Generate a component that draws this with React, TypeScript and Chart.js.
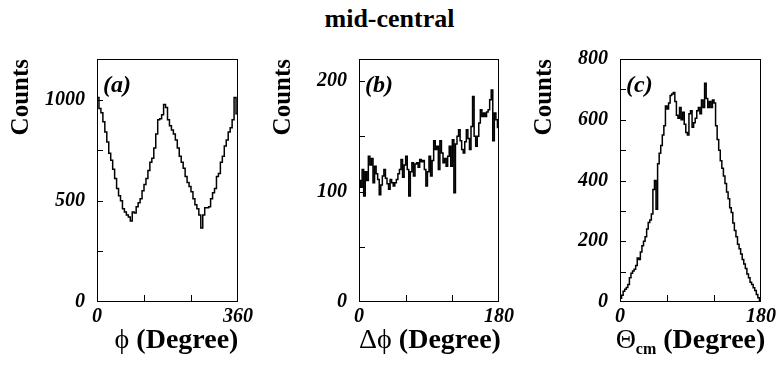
import React, { useEffect, useRef } from 'react';
import { Chart, registerables } from 'chart.js';

Chart.register(...registerables);

const SERIF = '"Liberation Serif", "Times New Roman", "DejaVu Serif", serif';

// ---------- data ----------
// (a) phi distribution, 5 degree bins, 0..360
const phiBinWidth = 5;
const phiCounts = [
  1010, 955, 935, 890, 840, 790, 735, 700, 655, 610, 560, 525, 500, 460, 445, 430, 420, 400,
  445, 440, 470, 490, 510, 550, 580, 610, 650, 690, 710, 760, 830, 900, 905, 925, 975, 960,
  900, 870, 850, 830, 800, 760, 720, 690, 660, 620, 590, 570, 545, 510, 480, 460, 430, 365,
  430, 465, 465, 470, 510, 540, 560, 620, 635, 690, 720, 770, 800, 840, 860, 900, 1010, 930,
];
const phiYLabels = [0, 500, 1000];
const phiYTicks = [250, 500, 750, 1000];
const phiXLabels = [0, 360];
const phiXTicks = [120, 240];

// (b) delta-phi distribution, 2 degree bins, 0..180
const dphiBinWidth = 2;
const dphiCounts = [
  110, 104, 120, 96, 118, 110, 132, 124, 130, 108,
  123, 116, 111, 97, 106, 114, 120, 112, 107, 102,
  111, 108, 105, 108, 111, 116, 120, 129, 113, 124,
  132, 120, 96, 118, 126, 114, 125, 126, 122, 129,
  127, 128, 120, 105, 118, 132, 114, 128, 146, 138,
  141, 120, 146, 135, 126, 130, 123, 132, 141, 123,
  147, 99, 143, 150, 156, 146, 138, 135, 145, 156,
  148, 138, 159, 186, 150, 141, 150, 162, 174, 168,
  171, 168, 172, 174, 183, 192, 146, 171, 165, 158,
];
const dphiYLabels = [0, 100, 200];
const dphiYTicks = [50, 100, 150, 200];
const dphiXLabels = [0, 180];
const dphiXTicks = [60, 120];

// (c) theta_cm distribution, 2 degree bins, 0..180
const thetaBinWidth = 2;
const thetaCounts = [
  12, 22, 35, 42, 48, 58, 80, 95, 102, 108,
  120, 145, 140, 165, 185, 200, 215, 240, 262, 270,
  290, 370, 400, 305, 455, 490, 515, 550, 580, 645,
  635, 655, 680, 685, 690, 660, 615, 605, 640, 600,
  625, 585, 558, 550, 620, 630, 575, 590, 605, 630,
  640, 620, 665, 640, 720, 670, 640, 660, 640, 665,
  655, 580, 535, 500, 465, 440, 415, 390, 362, 340,
  310, 295, 260, 235, 215, 190, 175, 158, 140, 125,
  110, 92, 80, 65, 58, 47, 38, 25, 14, 5,
];
const thetaYLabels = [0, 200, 400, 600, 800];
const thetaYTicks = [100, 200, 300, 400, 500, 600, 700];
const thetaXLabels = [0, 180];
const thetaXTicks = [60, 120];

const pageTitle = 'mid-central';
const yTitle = 'Counts';

type TitlePart = { text: string; font: string; dy?: number };

interface PanelCfg {
  tag: string;
  counts: number[];
  bin: number;
  xMax: number;
  yMax: number;
  yLabels: number[];
  yTicks: number[];
  xLabels: number[];
  xTicks: number[];
  xTitle: TitlePart[];
  xTitleShift: number;
  left: number;
  width: number;
}

const greek = `28px ${SERIF}`;
const boldT = `bold 28px ${SERIF}`;

const panels: PanelCfg[] = [
  {
    tag: '(a)', counts: phiCounts, bin: phiBinWidth, xMax: 360, yMax: 1200,
    yLabels: phiYLabels, yTicks: phiYTicks, xLabels: phiXLabels, xTicks: phiXTicks,
    xTitle: [{ text: '\u03D5', font: greek }, { text: ' (Degree)', font: boldT }],
    xTitleShift: 9,
    left: 0, width: 256,
  },
  {
    tag: '(b)', counts: dphiCounts, bin: dphiBinWidth, xMax: 180, yMax: 220,
    yLabels: dphiYLabels, yTicks: dphiYTicks, xLabels: dphiXLabels, xTicks: dphiXTicks,
    xTitle: [{ text: '\u0394\u03D5', font: greek }, { text: ' (Degree)', font: boldT }],
    xTitleShift: 1,
    left: 262, width: 255,
  },
  {
    tag: '(c)', counts: thetaCounts, bin: thetaBinWidth, xMax: 180, yMax: 800,
    yLabels: thetaYLabels, yTicks: thetaYTicks, xLabels: thetaXLabels, xTicks: thetaXTicks,
    xTitle: [
      { text: '\u0398', font: greek },
      { text: 'cm', font: `bold 16px ${SERIF}`, dy: 6 },
      { text: ' (Degree)', font: boldT },
    ],
    xTitleShift: 0,
    left: 523, width: 256,
  },
];

function makeFramePlugin(cfg: PanelCfg) {
  return {
    id: 'frame' + cfg.tag,
    afterDraw(chart: any) {
      const { ctx, chartArea } = chart;
      const { left, right, top, bottom } = chartArea;
      const xs = chart.scales.x;
      const ys = chart.scales.y;
      ctx.save();
      ctx.strokeStyle = '#000';
      ctx.lineWidth = 1;
      ctx.strokeRect(Math.round(left) + 0.5, Math.round(top) + 0.5, Math.round(right - left) - 1, Math.round(bottom - top) - 1);
      ctx.beginPath();
      for (const v of cfg.yTicks) {
        const py = Math.round(ys.getPixelForValue(v)) + 0.5;
        ctx.moveTo(left, py);
        ctx.lineTo(left + 6, py);
      }
      for (const v of cfg.xTicks) {
        const px = Math.round(xs.getPixelForValue(v)) + 0.5;
        ctx.moveTo(px, bottom);
        ctx.lineTo(px, bottom - 7);
      }
      ctx.stroke();

      // panel tag
      ctx.fillStyle = '#000';
      ctx.font = `italic bold 24px ${SERIF}`;
      ctx.textAlign = 'left';
      ctx.textBaseline = 'alphabetic';
      ctx.fillText(cfg.tag, left + 6, top + 33);

      // x-axis title (with optional subscript)
      let total = 0;
      for (const p of cfg.xTitle) {
        ctx.font = p.font;
        total += ctx.measureText(p.text).width;
      }
      let x = (left + right) / 2 - total / 2 + cfg.xTitleShift;
      const base = 348;
      for (const p of cfg.xTitle) {
        ctx.font = p.font;
        ctx.fillText(p.text, x, base + (p.dy || 0));
        x += ctx.measureText(p.text).width;
      }
      ctx.restore();
    },
  };
}

function Panel({ cfg }: { cfg: PanelCfg }) {
  const ref = useRef<HTMLCanvasElement>(null);
  useEffect(() => {
    if (!ref.current) return;
    const points = cfg.counts.map((c, i) => ({ x: i * cfg.bin, y: c }));
    points.push({ x: cfg.counts.length * cfg.bin, y: cfg.counts[cfg.counts.length - 1] });
    const tickFont = { family: SERIF, size: 20, weight: 'bold' as const, style: 'italic' as const };
    const chart = new Chart(ref.current, {
      type: 'line',
      data: {
        datasets: [
          {
            data: points,
            stepped: 'before',
            borderColor: '#000',
            borderWidth: 1.5,
            pointRadius: 0,
            fill: false,
            tension: 0,
          },
        ],
      },
      options: {
        animation: false,
        responsive: false,
        devicePixelRatio: 1,
        layout: { padding: { left: 0, right: 18, top: 59, bottom: 0 } },
        plugins: { legend: { display: false }, tooltip: { enabled: false }, title: { display: false } },
        scales: {
          x: {
            type: 'linear',
            min: 0,
            max: cfg.xMax,
            afterBuildTicks: (s: any) => { s.ticks = cfg.xLabels.map((v) => ({ value: v })); },
            afterFit: (s: any) => { s.height = 64; },
            ticks: { autoSkip: false, maxRotation: 0, color: '#000', font: tickFont, padding: 3, callback: (v: any) => String(v) },
            grid: { display: false, drawTicks: false },
            border: { display: false },
          },
          y: {
            type: 'linear',
            min: 0,
            max: cfg.yMax,
            afterBuildTicks: (s: any) => { s.ticks = cfg.yLabels.map((v) => ({ value: v })); },
            afterFit: (s: any) => { s.width = 97; },
            ticks: { autoSkip: false, color: '#000', font: tickFont, padding: 12, callback: (v: any) => String(v) },
            grid: { display: false, drawTicks: false },
            border: { display: false },
            title: {
              display: true,
              text: yTitle,
              align: 'end',
              color: '#000',
              font: { family: SERIF, size: 25, weight: 'bold', lineHeight: 1.2 },
              padding: { top: 7, bottom: 0 },
            },
          },
        },
      },
      plugins: [makeFramePlugin(cfg)],
    } as any);
    return () => chart.destroy();
  }, [cfg]);
  return (
    <canvas
      ref={ref}
      width={cfg.width}
      height={366}
      style={{ position: 'absolute', left: cfg.left, top: 0, width: cfg.width, height: 366 }}
    />
  );
}

export default function App() {
  return (
    <div style={{ position: 'fixed', left: 0, top: 0, width: 779, height: 366, background: '#fff', overflow: 'hidden' }}>
      <div
        style={{
          position: 'absolute', left: 0, top: 6, width: 779, textAlign: 'center',
          fontFamily: SERIF, fontWeight: 'bold', fontSize: 26, lineHeight: '26px', color: '#000',
        }}
      >
        {pageTitle}
      </div>
      {panels.map((p) => (
        <Panel key={p.tag} cfg={p} />
      ))}
    </div>
  );
}
